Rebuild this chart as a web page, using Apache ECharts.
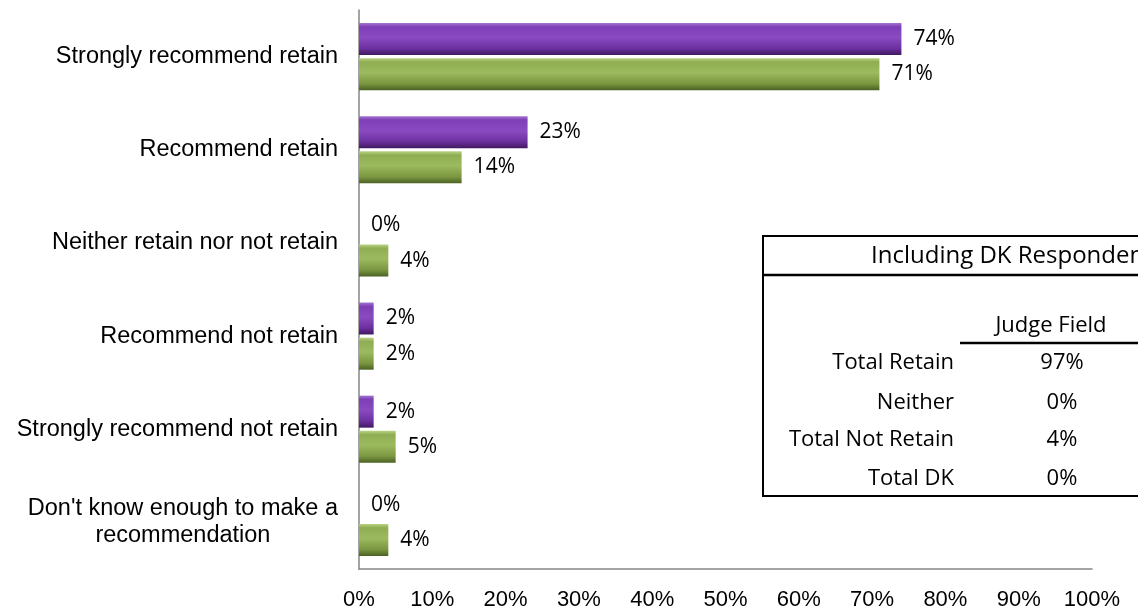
<!DOCTYPE html>
<html>
<head>
<meta charset="utf-8">
<script src="https://cdn.jsdelivr.net/npm/echarts@6/dist/echarts.min.js"></script>
<style>
html,body{margin:0;padding:0;background:#fff;}
#chart{width:1138px;height:614px;}
</style>
</head>
<body>
<div id="chart"></div>
<script>
const categories = [
  "Strongly recommend retain",
  "Recommend retain",
  "Neither retain nor not retain",
  "Recommend not retain",
  "Strongly recommend not retain",
  "Don't know enough to make a\nrecommendation"
];
const purpleValues = [74, 23, 0, 2, 2, 0];
const greenValues = [71, 14, 4, 2, 5, 4];
const xTicks = [0, 10, 20, 30, 40, 50, 60, 70, 80, 90, 100];
const tableTitle = "Including DK Respondents";
const tableColumn = "Judge Field";
const tableRows = ["Total Retain", "Neither", "Total Not Retain", "Total DK"];
const tableValues = ["97%", "0%", "4%", "0%"];

const chart = echarts.init(document.getElementById('chart'));

function grad(stops) {
  return new echarts.graphic.LinearGradient(0, 0, 0, 1,
    stops.map(s => ({offset: s[0], color: s[1]})));
}

const labelStyle = {
  show: true,
  position: 'right',
  distance: 12,
  formatter: p => p.value + '%',
  fontFamily: 'Open Sans',
  fontSize: 21,
  color: '#000'
};

const tx = 763, ty = 236, tw = 400, th = 260;
const rowY = [363, 403, 440, 479];
const tfont = '22px "Open Sans"';
const graphics = [
  {type: 'rect', shape: {x: tx, y: ty, width: tw, height: th}, style: {fill: '#fff', stroke: '#000', lineWidth: 2}, z: 100},
  {type: 'line', shape: {x1: tx, y1: 275, x2: tx + tw, y2: 275}, style: {stroke: '#000', lineWidth: 2.5}, z: 101},
  {type: 'text', x: 871, y: 256, style: {text: tableTitle, font: '24px "Open Sans"', fill: '#000', textVerticalAlign: 'middle', textAlign: 'left'}, z: 101},
  {type: 'text', x: 1051, y: 326, style: {text: tableColumn, font: tfont, fill: '#000', textVerticalAlign: 'middle', textAlign: 'center'}, z: 101},
  {type: 'line', shape: {x1: 960, y1: 343, x2: 1138, y2: 343}, style: {stroke: '#000', lineWidth: 2.5}, z: 101}
];
tableRows.forEach((r, i) => {
  graphics.push({type: 'text', x: 954, y: rowY[i], style: {text: r, font: tfont, fill: '#000', textVerticalAlign: 'middle', textAlign: 'right'}, z: 101});
  graphics.push({type: 'text', x: 1062, y: rowY[i], style: {text: tableValues[i], font: tfont, fill: '#000', textVerticalAlign: 'middle', textAlign: 'center'}, z: 101});
});

chart.setOption({
  animation: false,
  grid: {left: 359, right: 46, top: 10, bottom: 45, containLabel: false},
  xAxis: {
    type: 'value', min: 0, max: 100, interval: 10,
    axisLine: {show: true, lineStyle: {color: '#868686', width: 1.5}},
    axisTick: {show: false},
    splitLine: {show: false},
    axisLabel: {
      margin: 20,
      formatter: v => v + '%',
      fontFamily: 'Liberation Sans',
      fontSize: 22,
      color: '#000',
      customValues: xTicks
    }
  },
  yAxis: {
    type: 'category', data: categories, inverse: true,
    axisLine: {show: true, lineStyle: {color: '#868686', width: 1.5}},
    axisTick: {show: false},
    axisLabel: {
      margin: 21,
      fontFamily: 'Liberation Sans',
      fontSize: 23.5,
      color: '#000',
      align: 'right',
      lineHeight: 27,
      formatter: v => v.split('\n').map(s => '{c|' + s + '}').join('\n'),
      rich: {c: {align: 'center', fontFamily: 'Liberation Sans', fontSize: 23.5, lineHeight: 27, color: '#000'}}
    }
  },
  series: [
    {
      name: 'Purple', type: 'bar', data: purpleValues,
      barWidth: 32, barGap: '10%',
      itemStyle: {
        color: grad([[0, '#a476d0'], [0.12, '#7e3fb6'], [0.45, '#8a4bc2'], [0.8, '#6c2f9e'], [1, '#3f1a5e']]),
        borderWidth: 0
      },
      label: labelStyle
    },
    {
      name: 'Green', type: 'bar', data: greenValues,
      barWidth: 32, barGap: '10%',
      itemStyle: {
        color: grad([[0, '#b9d283'], [0.12, '#8fad52'], [0.45, '#9cba5e'], [0.8, '#7a9640'], [1, '#4b6123']]),
        borderWidth: 0
      },
      label: labelStyle
    }
  ],
  graphic: graphics
});
</script>
</body>
</html>
